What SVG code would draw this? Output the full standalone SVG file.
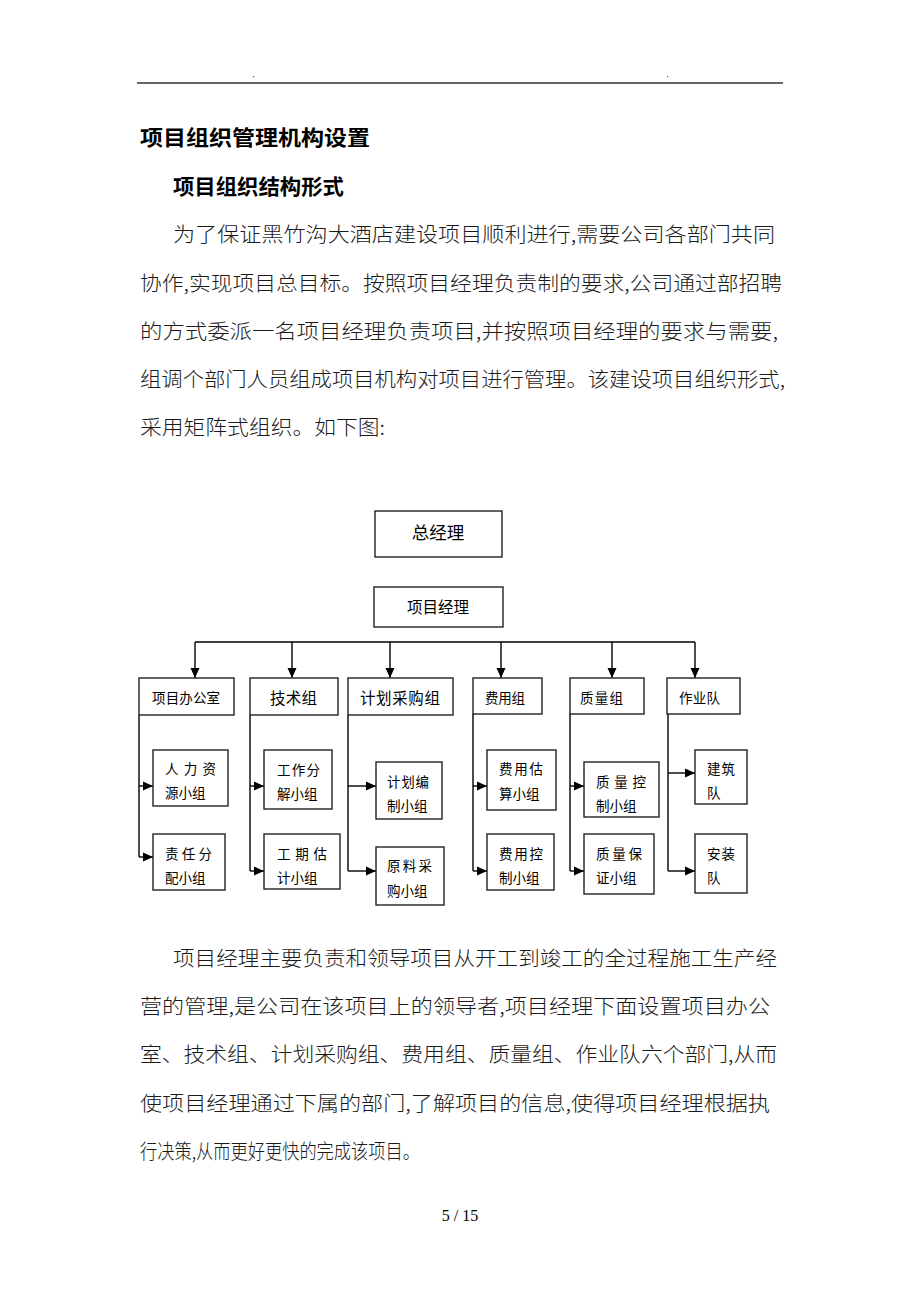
<svg xmlns="http://www.w3.org/2000/svg" width="920" height="1302" viewBox="0 0 920 1302">
<style>
.body{font-family:"Noto Sans CJK SC","Noto Sans CJK JP",sans-serif;font-size:20px;font-weight:300;fill:#1a1a1a;dominant-baseline:central}
.h1{font-family:"Noto Sans CJK SC",sans-serif;font-size:21px;font-weight:bold;fill:#000;dominant-baseline:central}
.box{fill:#fff;stroke:#222;stroke-width:1.4}
.t{font-family:"Noto Sans CJK SC",sans-serif;fill:#000;dominant-baseline:central}
.s{font-size:13.5px}
.m{font-size:15.5px}
.line{fill:none;stroke:#000;stroke-width:1.4}
</style>
<defs>
<marker id="arr" markerUnits="userSpaceOnUse" markerWidth="10" markerHeight="10" viewBox="0 0 10 10" refX="10" refY="5" orient="auto">
<path d="M0,0.5 L10,5 L0,9.5 Z" fill="#000"/>
</marker>
</defs>
<rect width="920" height="1302" fill="#fff"/>
<g id="header">
<line x1="137" y1="83" x2="783" y2="83" stroke="#333" stroke-width="1.5"/>
<rect x="253" y="76" width="1.2" height="1.2" fill="#555"/>
<rect x="667" y="76" width="1.2" height="1.2" fill="#555"/>
</g>
<g id="text-top">
<text class="h1" x="140" y="136" textLength="230" lengthAdjust="spacingAndGlyphs">项目组织管理机构设置</text>
<text class="h1" x="173" y="185" font-size="19" textLength="171" lengthAdjust="spacingAndGlyphs">项目组织结构形式</text>
<text class="body" x="173" y="233" textLength="602" lengthAdjust="spacingAndGlyphs">为了保证黑竹沟大酒店建设项目顺利进行,需要公司各部门共同</text>
<text class="body" x="140" y="282" textLength="642" lengthAdjust="spacingAndGlyphs">协作,实现项目总目标。按照项目经理负责制的要求,公司通过部招聘</text>
<text class="body" x="140" y="330" textLength="638" lengthAdjust="spacingAndGlyphs">的方式委派一名项目经理负责项目,并按照项目经理的要求与需要,</text>
<text class="body" x="140" y="378" textLength="645" lengthAdjust="spacingAndGlyphs">组调个部门人员组成项目机构对项目进行管理。该建设项目组织形式,</text>
<text class="body" x="140" y="426" textLength="245" lengthAdjust="spacingAndGlyphs">采用矩阵式组织。如下图:</text>
</g>
<g id="connectors">
<path class="line" d="M195,642 H695"/>
<path class="line" d="M195,642 V678" marker-end="url(#arr)"/>
<path class="line" d="M292,642 V678" marker-end="url(#arr)"/>
<path class="line" d="M390,642 V678" marker-end="url(#arr)"/>
<path class="line" d="M501,642 V678" marker-end="url(#arr)"/>
<path class="line" d="M612,642 V678" marker-end="url(#arr)"/>
<path class="line" d="M695,642 V678" marker-end="url(#arr)"/>
<path class="line" d="M139,715 V857"/>
<path class="line" d="M250,715 V871"/>
<path class="line" d="M348,715 V871"/>
<path class="line" d="M473,714 V871"/>
<path class="line" d="M570,714 V871"/>
<path class="line" d="M668,714 V871"/>
<path class="line" d="M139,786 H153" marker-end="url(#arr)"/>
<path class="line" d="M139,857 H153" marker-end="url(#arr)"/>
<path class="line" d="M250,786 H264" marker-end="url(#arr)"/>
<path class="line" d="M250,871 H264" marker-end="url(#arr)"/>
<path class="line" d="M348,786 H376" marker-end="url(#arr)"/>
<path class="line" d="M348,871 H376" marker-end="url(#arr)"/>
<path class="line" d="M473,786 H487" marker-end="url(#arr)"/>
<path class="line" d="M473,871 H487" marker-end="url(#arr)"/>
<path class="line" d="M570,786 H584" marker-end="url(#arr)"/>
<path class="line" d="M570,871 H584" marker-end="url(#arr)"/>
<path class="line" d="M668,773 H695" marker-end="url(#arr)"/>
<path class="line" d="M668,871 H695" marker-end="url(#arr)"/>
</g>
<g id="n-zjl"><rect class="box" x="375" y="511" width="127" height="46"/><text class="t" x="438" y="531" font-size="17.5" text-anchor="middle">总经理</text></g>
<g id="n-xmjl"><rect class="box" x="374" y="587" width="129" height="40"/><text class="t m" x="438" y="606" text-anchor="middle">项目经理</text></g>
<g id="n-bgs"><rect class="box" x="139" y="678" width="95" height="37"/><text class="t s" x="152" y="697" textLength="68">项目办公室</text></g>
<g id="n-jsz"><rect class="box" x="250" y="678" width="88" height="37"/><text class="t m" x="270" y="697" textLength="47">技术组</text></g>
<g id="n-jhcg"><rect class="box" x="348" y="678" width="105" height="37"/><text class="t m" x="360" y="697" textLength="80">计划采购组</text></g>
<g id="n-fyz"><rect class="box" x="473" y="678" width="69" height="36"/><text class="t s" x="485" y="697" textLength="40">费用组</text></g>
<g id="n-zlz"><rect class="box" x="570" y="678" width="74" height="36"/><text class="t s" x="580" y="697" textLength="43">质量组</text></g>
<g id="n-zyd"><rect class="box" x="667" y="678" width="73" height="36"/><text class="t s" x="679" y="697" textLength="41">作业队</text></g>
<g id="n-rlzy"><rect class="box" x="153" y="750" width="75" height="56"/><text class="t s" x="165" y="768" textLength="51">人力资</text><text class="t s" x="165" y="792">源小组</text></g>
<g id="n-zrfp"><rect class="box" x="153" y="834" width="72" height="56"/><text class="t s" x="165" y="853" textLength="47">责任分</text><text class="t s" x="165" y="877">配小组</text></g>
<g id="n-gzfj"><rect class="box" x="264" y="750" width="68" height="59"/><text class="t s" x="277" y="769" textLength="43">工作分</text><text class="t s" x="277" y="793">解小组</text></g>
<g id="n-gqgj"><rect class="box" x="264" y="834" width="76" height="55"/><text class="t s" x="277" y="853" textLength="50">工期估</text><text class="t s" x="277" y="877">计小组</text></g>
<g id="n-jhbz"><rect class="box" x="376" y="762" width="66" height="57"/><text class="t s" x="387" y="781" textLength="42">计划编</text><text class="t s" x="387" y="805">制小组</text></g>
<g id="n-ylcg"><rect class="box" x="376" y="847" width="68" height="58"/><text class="t s" x="387" y="865" textLength="45">原料采</text><text class="t s" x="387" y="890">购小组</text></g>
<g id="n-fygs"><rect class="box" x="487" y="750" width="69" height="60"/><text class="t s" x="499" y="768" textLength="44">费用估</text><text class="t s" x="499" y="793">算小组</text></g>
<g id="n-fykz"><rect class="box" x="487" y="834" width="67" height="56"/><text class="t s" x="499" y="853" textLength="44">费用控</text><text class="t s" x="499" y="877">制小组</text></g>
<g id="n-zlkz"><rect class="box" x="584" y="762" width="75" height="55"/><text class="t s" x="596" y="781" textLength="50">质量控</text><text class="t s" x="596" y="805">制小组</text></g>
<g id="n-zlbz"><rect class="box" x="584" y="834" width="70" height="60"/><text class="t s" x="596" y="853" textLength="46">质量保</text><text class="t s" x="596" y="877">证小组</text></g>
<g id="n-jzd"><rect class="box" x="695" y="750" width="52" height="54"/><text class="t s" x="707" y="768" textLength="28">建筑</text><text class="t s" x="707" y="792">队</text></g>
<g id="n-azd"><rect class="box" x="695" y="834" width="52" height="59"/><text class="t s" x="707" y="853" textLength="28">安装</text><text class="t s" x="707" y="877">队</text></g>
<g id="text-bottom">
<text class="body" x="173" y="957" textLength="604" lengthAdjust="spacingAndGlyphs">项目经理主要负责和领导项目从开工到竣工的全过程施工生产经</text>
<text class="body" x="140" y="1005" textLength="630" lengthAdjust="spacingAndGlyphs">营的管理,是公司在该项目上的领导者,项目经理下面设置项目办公</text>
<text class="body" x="140" y="1053" textLength="637" lengthAdjust="spacingAndGlyphs">室、技术组、计划采购组、费用组、质量组、作业队六个部门,从而</text>
<text class="body" x="140" y="1102" textLength="630" lengthAdjust="spacingAndGlyphs">使项目经理通过下属的部门,了解项目的信息,使得项目经理根据执</text>
<text class="body" x="140" y="1150" textLength="280" lengthAdjust="spacingAndGlyphs">行决策,从而更好更快的完成该项目。</text>
<text x="460" y="1215" font-family="Liberation Serif" font-size="16" text-anchor="middle" dominant-baseline="central" fill="#000">5 / 15</text>
</g>
</svg>
